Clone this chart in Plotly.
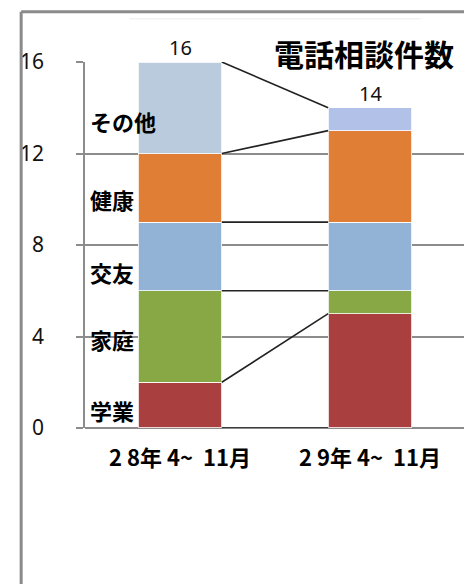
import plotly.graph_objects as go
import numpy as np

categories = ["2 8年 4~  11月", "2 9年 4~  11月"]
series_names = ["学業", "家庭", "交友", "健康", "その他"]
gakugyo = [2, 5]
katei = [4, 1]
koyu = [3, 3]
kenko = [3, 4]
sonota = [4, 1]
y_ticks = [0, 4, 8, 12, 16]
title_text = "電話相談件数"

# layout-only: vertical placement of the in-plot series name labels (axis units)
label_y = [0.8, 3.9, 6.8, 10.0, 13.4]

values = [gakugyo, katei, koyu, kenko, sonota]
colors = ["#A9403F", "#87A845", "#93B3D6", "#DF7E34", ["#B9CBDC", "#B2C1E8"]]

FONT_JP = "Noto Sans CJK JP"
bar_w = 0.44
xpos = list(range(len(categories)))

fig = go.Figure()
for name, vals, col in zip(series_names, values, colors):
    fig.add_trace(go.Bar(
        x=xpos, y=vals, name=name, width=bar_w,
        marker=dict(color=col, line=dict(color="rgba(255,255,255,0.8)", width=1.2)),
        hoverinfo="skip",
    ))

# series lines connecting cumulative tops
cum = np.cumsum(np.array(values), axis=0)
base = np.zeros(len(categories))
levels = [base] + [cum[i] for i in range(len(series_names))]
for lv in levels:
    fig.add_trace(go.Scatter(
        x=[xpos[0] + bar_w / 2, xpos[1] - bar_w / 2], y=[lv[0], lv[1]],
        mode="lines", line=dict(color="#222222", width=1.6),
        showlegend=False, hoverinfo="skip",
    ))

totals = cum[-1]
annotations = []
for xi, t in zip(xpos, totals):
    annotations.append(dict(
        x=xi, y=t, xref="x", yref="y", text=str(int(t)), showarrow=False,
        yanchor="bottom", yshift=0, font=dict(family="Noto Sans", size=20, color="#111"),
        bgcolor="white", borderpad=0,
    ))

# series names on the left inside the plot
for name, ly in zip(series_names, label_y):
    annotations.append(dict(
        x=-0.5, y=ly, xref="x", yref="y", text="<b>" + name + "</b>",
        showarrow=False, xanchor="left", xshift=3,
        font=dict(family=FONT_JP, size=22, color="#000"),
    ))

annotations.append(dict(
    x=0.974, y=16, xref="paper", yref="y", text="<b>" + title_text + "</b>",
    showarrow=False, xanchor="right", yanchor="middle", yshift=9,
    font=dict(family=FONT_JP, size=30, color="#000"), bgcolor="white", borderpad=0,
))

shapes = [
    # outer frame
    dict(type="line", xref="paper", yref="paper", x0=-0.168, x1=1.1, y0=1.137, y1=1.137,
         line=dict(color="#8a8a8a", width=3)),
    dict(type="line", xref="paper", yref="paper", x0=-0.168, x1=-0.168, y0=1.137, y1=-0.5,
         line=dict(color="#8a8a8a", width=3)),
    # faint stripe below the frame top
    dict(type="line", xref="paper", yref="paper", x0=0.116, x1=0.884, y0=1.118, y1=1.118,
         line=dict(color="#ececec", width=1)),
]

fig.update_layout(
    width=472, height=584,
    margin=dict(l=69, r=15, t=54, b=164),
    paper_bgcolor="white", plot_bgcolor="white",
    barmode="stack",
    showlegend=False,
    annotations=annotations, shapes=shapes,
    xaxis=dict(
        range=[-0.5, 1.5], tickvals=xpos,
        ticktext=["<b>" + c + "</b>" for c in categories],
        tickfont=dict(family=FONT_JP, size=22, color="#000"),
        showgrid=False, zeroline=False, showline=False, ticks="",
        ticklabelstandoff=15,
    ),
    yaxis=dict(
        range=[0, 16], tickvals=y_ticks,
        tickfont=dict(family="Noto Sans", size=21, color="#111"),
        showgrid=True, gridcolor="#8c8c8c", gridwidth=1.5,
        zeroline=True, zerolinecolor="#8c8c8c", zerolinewidth=1.5,
        showline=True, linecolor="#8c8c8c", linewidth=1.5,
        ticks="outside", ticklen=7, tickcolor="#8c8c8c", tickwidth=1.5,
        ticklabelstandoff=28,
    ),
)

fig.write_html("out.html")
